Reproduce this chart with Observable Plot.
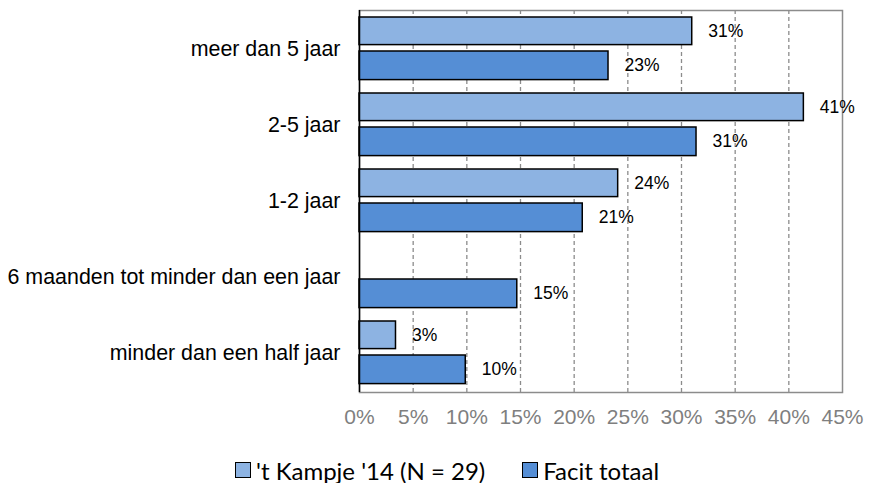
<!DOCTYPE html>
<html>
<head>
<meta charset="utf-8">
<script src="https://cdn.jsdelivr.net/npm/d3@7"></script>
<script src="https://cdn.jsdelivr.net/npm/@observablehq/plot@0.6"></script>
<style>
  html, body { margin: 0; padding: 0; background: #fff; }
  #wrap { position: relative; width: 869px; height: 483px; }
  #legend { position: absolute; left: 235px; top: 455px; height: 30px; display: flex; align-items: center;
    font-family: Lato, "Open Sans", sans-serif; font-size: 24px; color: #000; white-space: nowrap; }
  .item { display: flex; align-items: center; margin-right: 37px; }
  .sw { width: 14px; height: 14px; border: 1.5px solid #000; margin-right: 5px; }
</style>
</head>
<body>
<div id="wrap">
  <div id="chart"></div>
  <div id="legend"></div>
</div>
<script>
const categories = ["meer dan 5 jaar", "2-5 jaar", "1-2 jaar", "6 maanden tot minder dan een jaar", "minder dan een half jaar"];
const seriesNames = ["'t Kampje '14 (N = 29)", "Facit totaal"];
const kampje = [0.310, 0.414, 0.241, 0, 0.034];
const facit = [0.232, 0.314, 0.208, 0.147, 0.099];
const colors = ["#8DB3E2", "#558ED5"];
const xTicks = [0, 0.05, 0.10, 0.15, 0.20, 0.25, 0.30, 0.35, 0.40, 0.45];

const FONT = "'Liberation Sans', Arial, sans-serif";
const kData = categories.map((c, i) => ({cat: c, v: kampje[i]})).filter(d => d.v > 0);
const fData = categories.map((c, i) => ({cat: c, v: facit[i]}));
const fmt = v => Math.round(v * 100) + "%";

const chart = Plot.plot({
  width: 869,
  height: 437,
  marginLeft: 359,
  marginRight: 27,
  marginTop: 10,
  marginBottom: 45,
  style: {fontFamily: FONT, fontSize: "20px", background: "#fff"},
  x: {domain: [0, 0.45], ticks: xTicks, tickFormat: d => Math.round(d * 100) + "%", tickSize: 0, tickPadding: 17, label: null},
  y: {domain: categories, padding: 0, tickSize: 0, tickPadding: 19, label: null},
  marks: [
    Plot.ruleX(xTicks.slice(1, -1), {stroke: "#8c8c8c", strokeWidth: 1.3, strokeDasharray: "4,3"}),
    Plot.frame({stroke: "#8c8c8c", strokeWidth: 1.5}),
    Plot.barX(kData, {x: "v", y: "cat", fill: colors[0], stroke: "#000", strokeWidth: 1.5, insetTop: 6, insetBottom: 42.4}),
    Plot.barX(fData, {x: "v", y: "cat", fill: colors[1], stroke: "#000", strokeWidth: 1.5, insetTop: 40, insetBottom: 7.4}),
    Plot.ruleX([0], {stroke: "#000", strokeWidth: 1.5}),
    Plot.text(kData, {x: "v", y: "cat", text: d => fmt(d.v), dx: 16, dy: -18, textAnchor: "start", fontSize: 17.5, fontFamily: FONT, fill: "#000"}),
    Plot.text(fData, {x: "v", y: "cat", text: d => fmt(d.v), dx: 16, dy: 16, textAnchor: "start", fontSize: 17.5, fontFamily: FONT, fill: "#000"}),
    Plot.axisX({ticks: xTicks, tickFormat: d => Math.round(d * 100) + "%", tickSize: 0, tickPadding: 17, fill: "#7f7f7f", fontSize: 21, fontFamily: FONT}),
    Plot.axisY({tickSize: 0, tickPadding: 19, fill: "#000", fontSize: 21.4, fontFamily: FONT})
  ]
});
document.getElementById("chart").appendChild(chart);

const legend = document.getElementById("legend");
seriesNames.forEach((name, i) => {
  const item = document.createElement("div");
  item.className = "item";
  const sw = document.createElement("div");
  sw.className = "sw";
  sw.style.background = colors[i];
  const label = document.createElement("span");
  label.textContent = name;
  item.appendChild(sw);
  item.appendChild(label);
  legend.appendChild(item);
});
</script>
</body>
</html>
